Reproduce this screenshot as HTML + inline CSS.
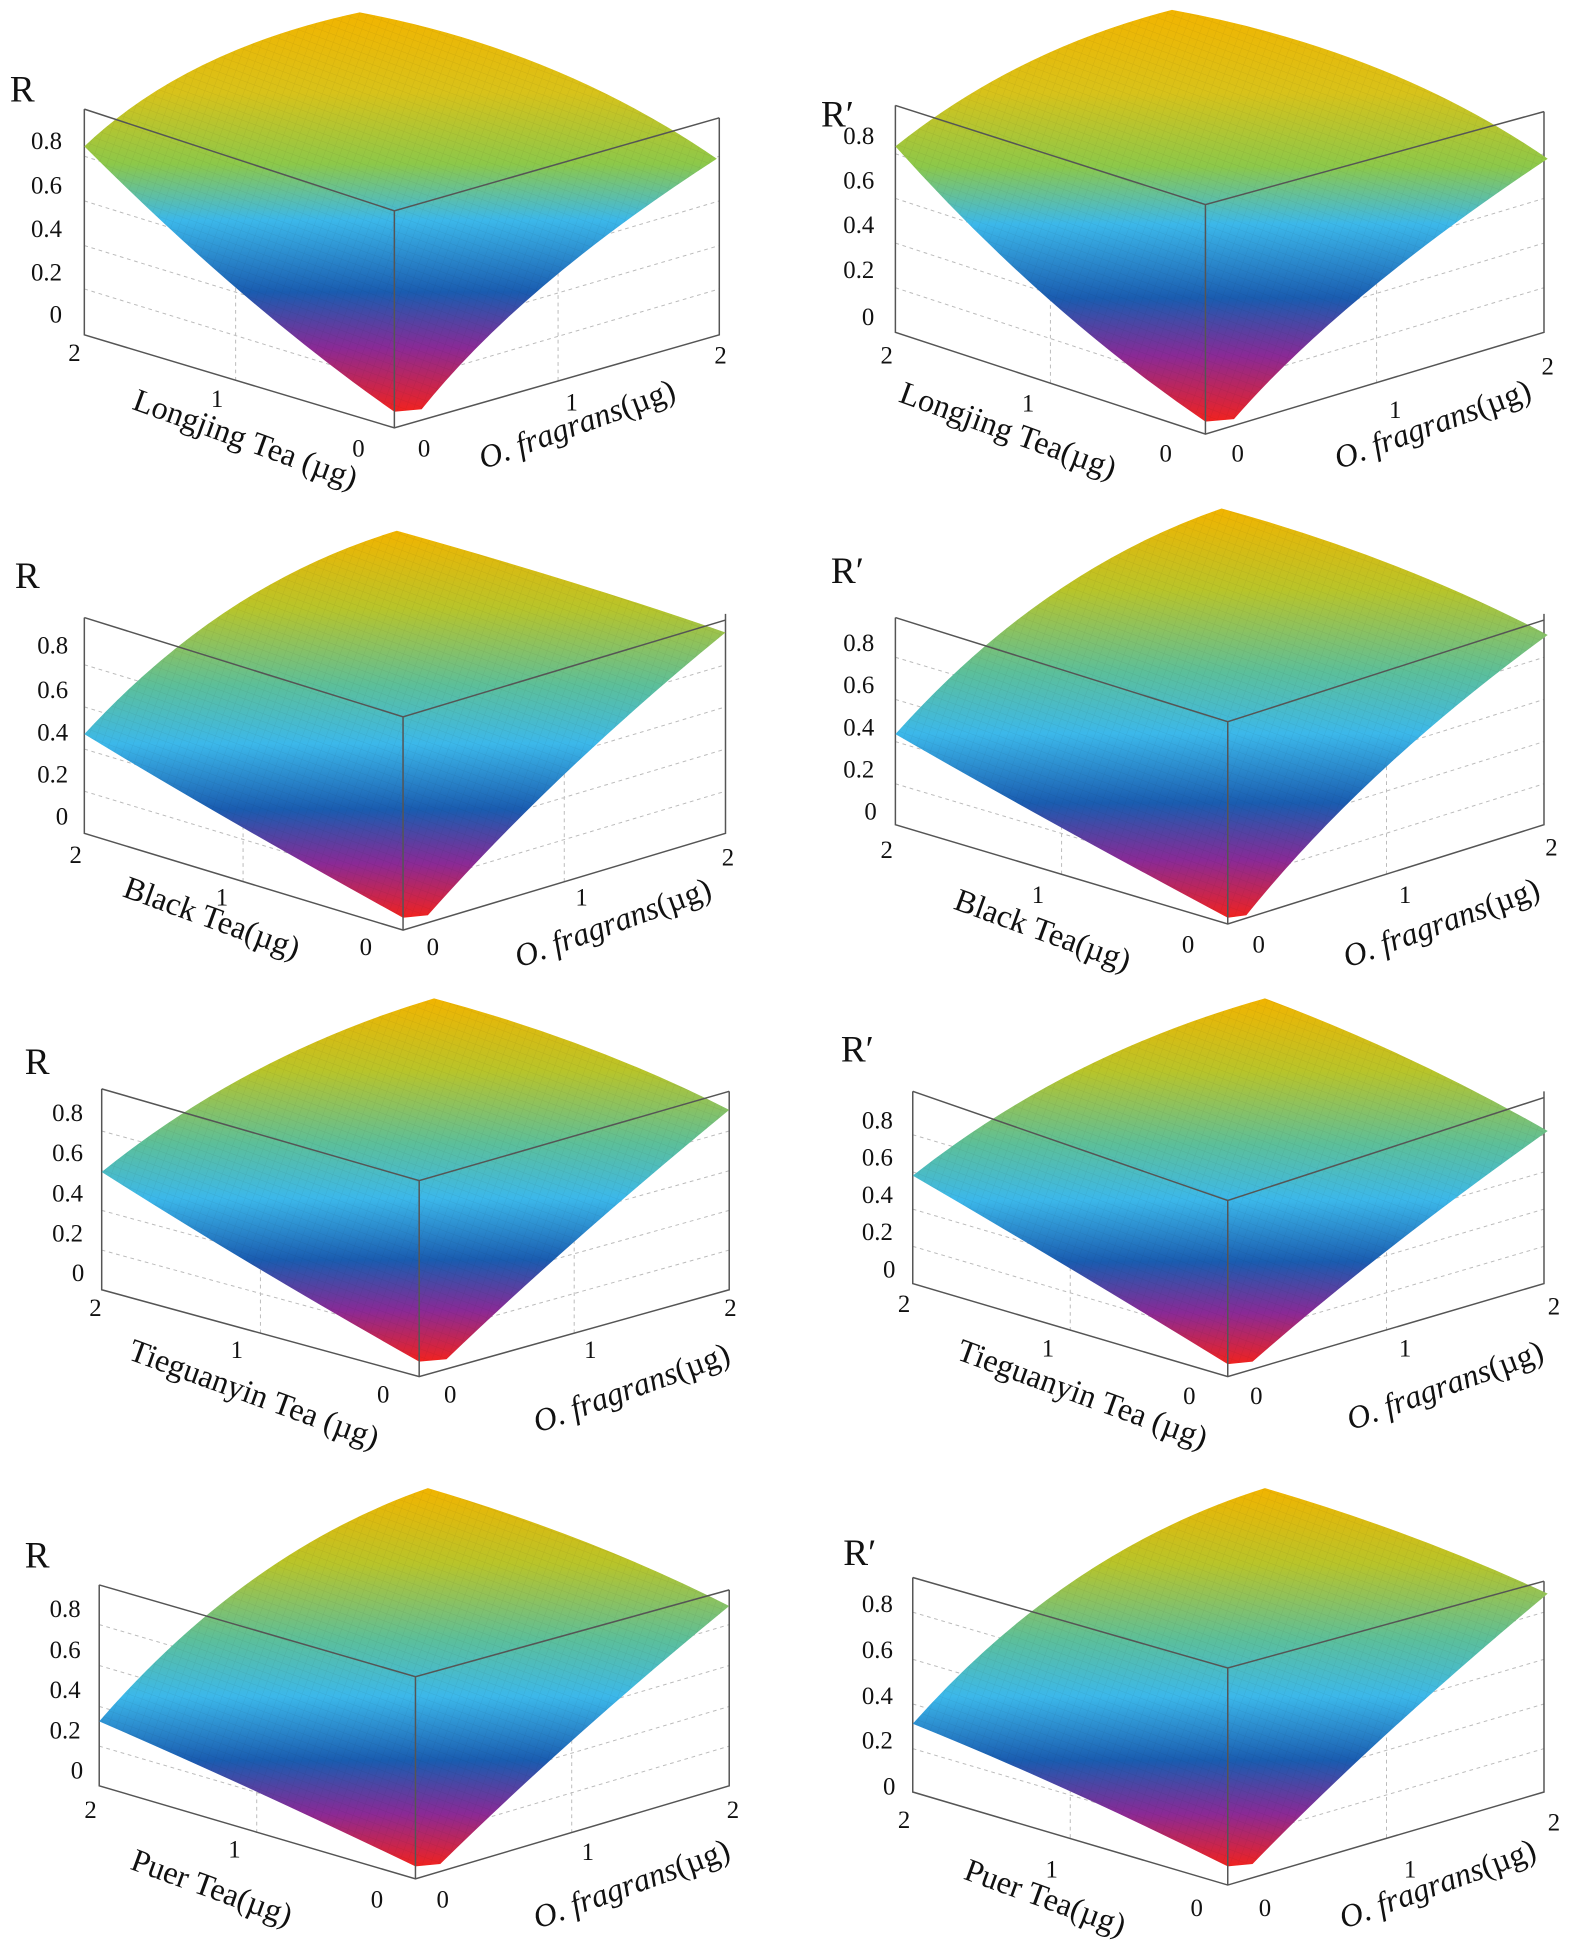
<!DOCTYPE html>
<html><head><meta charset="utf-8"><style>
html,body{margin:0;padding:0;background:#fff}
svg{display:block}
text{font-family:"Liberation Serif","DejaVu Serif",serif;fill:#111}
.t{font-family:"Liberation Sans",sans-serif;font-size:20px}
.ttl{font-size:26px}
.bx{stroke:#555;stroke-width:1.2;fill:none}
.gd{stroke:#bbb;stroke-width:0.8;stroke-dasharray:3 3;fill:none}
</style></head><body>
<svg width="1575" height="1952" viewBox="0 0 1270 1574" xmlns="http://www.w3.org/2000/svg">
<defs>
<linearGradient id="g" x1="0" y1="0" x2="0" y2="1">
<stop offset="0" stop-color="#f2b400"/><stop offset="0.2" stop-color="#d8c21a"/>
<stop offset="0.38" stop-color="#8cc84a"/><stop offset="0.52" stop-color="#3cb8ea"/>
<stop offset="0.7" stop-color="#1a5cb0"/><stop offset="0.84" stop-color="#8a2a96"/>
<stop offset="1" stop-color="#f2221e"/></linearGradient>
<linearGradient id="g2" x1="0" y1="0" x2="0" y2="1">
<stop offset="0" stop-color="#f2b400"/><stop offset="0.2" stop-color="#b8c42a"/>
<stop offset="0.4" stop-color="#5cbf9a"/><stop offset="0.55" stop-color="#3cb8ea"/>
<stop offset="0.72" stop-color="#1a5cb0"/><stop offset="0.86" stop-color="#8a2a96"/>
<stop offset="1" stop-color="#f2221e"/></linearGradient>
<pattern id="mesh" width="6" height="6" patternUnits="userSpaceOnUse" patternTransform="rotate(20)">
<path d="M0 0 H6 M0 0 V6" stroke="#000" stroke-opacity="0.07" stroke-width="0.7"/></pattern>
</defs>

<!-- Panel 1 -->
<g>
<path class="gd" d="M68 233 L318 310 L580 233 M68 198 L318 275 L580 198 M68 162 L318 240 L580 162 M68 126 L318 205 L580 126 M190 307 V130 M450 307 V130"/>
<path class="bx" d="M68 88 V270 L318 345 L580 270 V95"/>
<path d="M68 118 Q150 40 290 10 Q450 40 578 128 Q420 230 340 330 L318 332 Q200 250 68 118Z" fill="url(#g)"/>
<path d="M68 118 Q150 40 290 10 Q450 40 578 128 Q420 230 340 330 L318 332 Q200 250 68 118Z" fill="url(#mesh)"/>
<path class="bx" d="M68 88 L318 170 L580 95 M318 170 V345"/>
<text x="8" y="82" style="font-size:30px">R</text>
<g class="t"><text x="25" y="120">0.8</text><text x="25" y="156">0.6</text><text x="25" y="191">0.4</text><text x="25" y="226">0.2</text><text x="40" y="260">0</text>
<text x="55" y="291">2</text><text x="170" y="328">1</text><text x="284" y="368">0</text><text x="337" y="368">0</text><text x="456" y="331">1</text><text x="576" y="293">2</text></g>
<text class="ttl" transform="translate(195,362) rotate(20)" text-anchor="middle">Longjing Tea (µg)</text>
<text class="ttl" transform="translate(468,350) rotate(-20)" text-anchor="middle"><tspan font-style="italic">O. fragrans</tspan>(µg)</text>
</g>

<!-- Panel 2 -->
<g>
<path class="gd" d="M722 232 L972 314 L1245 232 M722 196 L972 278 L1245 196 M722 160 L972 242 L1245 160 M722 124 L972 206 L1245 124 M847 309 V130 M1110 309 V130"/>
<path class="bx" d="M722 85 V268 L972 350 L1245 268 V90"/>
<path d="M722 118 Q820 40 945 8 Q1120 40 1248 128 Q1080 240 995 338 L972 340 Q840 250 722 118Z" fill="url(#g)"/>
<path d="M722 118 Q820 40 945 8 Q1120 40 1248 128 Q1080 240 995 338 L972 340 Q840 250 722 118Z" fill="url(#mesh)"/>
<path class="bx" d="M722 85 L972 165 L1245 90 M972 165 V350"/>
<text x="662" y="102" style="font-size:30px">R′</text>
<g class="t"><text x="680" y="116">0.8</text><text x="680" y="152">0.6</text><text x="680" y="188">0.4</text><text x="680" y="224">0.2</text><text x="695" y="262">0</text>
<text x="710" y="293">2</text><text x="824" y="332">1</text><text x="935" y="372">0</text><text x="993" y="372">0</text><text x="1120" y="337">1</text><text x="1243" y="302">2</text></g>
<text class="ttl" transform="translate(810,355) rotate(20)" text-anchor="middle">Longjing Tea(µg)</text>
<text class="ttl" transform="translate(1158,350) rotate(-20)" text-anchor="middle"><tspan font-style="italic">O. fragrans</tspan>(µg)</text>
</g>

<!-- Panel 3 -->
<g>
<path class="gd" d="M68 638 L325 716 L585 638 M68 604 L325 682 L585 604 M68 570 L325 648 L585 570 M68 536 L325 614 L585 536 M196 711 V540 M455 711 V540"/>
<path class="bx" d="M68 498 V672 L325 750 L585 672 V495"/>
<path d="M68 592 Q180 470 320 428 Q470 470 585 510 Q450 620 345 738 L325 740 Q180 660 68 592Z" fill="url(#g2)"/>
<path d="M68 592 Q180 470 320 428 Q470 470 585 510 Q450 620 345 738 L325 740 Q180 660 68 592Z" fill="url(#mesh)"/>
<path class="bx" d="M68 498 L325 578 L585 500 M325 578 V750"/>
<text x="12" y="474" style="font-size:30px">R</text>
<g class="t"><text x="30" y="527">0.8</text><text x="30" y="563">0.6</text><text x="30" y="597">0.4</text><text x="30" y="631">0.2</text><text x="45" y="665">0</text>
<text x="56" y="696">2</text><text x="174" y="730">1</text><text x="290" y="770">0</text><text x="344" y="770">0</text><text x="464" y="730">1</text><text x="582" y="698">2</text></g>
<text class="ttl" transform="translate(168,748) rotate(20)" text-anchor="middle">Black Tea(µg)</text>
<text class="ttl" transform="translate(497,752) rotate(-20)" text-anchor="middle"><tspan font-style="italic">O. fragrans</tspan>(µg)</text>
</g>

<!-- Panel 4 -->
<g>
<path class="gd" d="M722 632 L990 712 L1245 632 M722 598 L990 678 L1245 598 M722 564 L990 644 L1245 564 M722 530 L990 610 L1245 530 M856 705 V540 M1118 705 V540"/>
<path class="bx" d="M722 498 V665 L990 745 L1245 665 V495"/>
<path d="M722 592 Q840 460 985 410 Q1130 450 1248 512 Q1100 620 1005 738 L990 740 Q840 660 722 592Z" fill="url(#g2)"/>
<path d="M722 592 Q840 460 985 410 Q1130 450 1248 512 Q1100 620 1005 738 L990 740 Q840 660 722 592Z" fill="url(#mesh)"/>
<path class="bx" d="M722 498 L990 582 L1245 500 M990 582 V745"/>
<text x="670" y="470" style="font-size:30px">R′</text>
<g class="t"><text x="680" y="525">0.8</text><text x="680" y="559">0.6</text><text x="680" y="593">0.4</text><text x="680" y="627">0.2</text><text x="697" y="661">0</text>
<text x="710" y="692">2</text><text x="832" y="728">1</text><text x="953" y="768">0</text><text x="1010" y="768">0</text><text x="1128" y="728">1</text><text x="1246" y="690">2</text></g>
<text class="ttl" transform="translate(838,758) rotate(20)" text-anchor="middle">Black Tea(µg)</text>
<text class="ttl" transform="translate(1165,752) rotate(-20)" text-anchor="middle"><tspan font-style="italic">O. fragrans</tspan>(µg)</text>
</g>

<!-- Panel 5 -->
<g>
<path class="gd" d="M82 1008 L338 1078 L588 1008 M82 976 L338 1046 L588 976 M82 944 L338 1014 L588 944 M82 912 L338 982 L588 912 M210 1075 V920 M463 1075 V920"/>
<path class="bx" d="M82 878 V1040 L338 1110 L588 1040 V880"/>
<path d="M82 945 Q200 850 350 805 Q480 840 588 895 Q460 1000 360 1096 L338 1098 Q200 1020 82 945Z" fill="url(#g2)"/>
<path d="M82 945 Q200 850 350 805 Q480 840 588 895 Q460 1000 360 1096 L338 1098 Q200 1020 82 945Z" fill="url(#mesh)"/>
<path class="bx" d="M82 878 L338 952 L588 880 M338 952 V1110"/>
<text x="20" y="866" style="font-size:30px">R</text>
<g class="t"><text x="42" y="904">0.8</text><text x="42" y="936">0.6</text><text x="42" y="969">0.4</text><text x="42" y="1001">0.2</text><text x="58" y="1033">0</text>
<text x="72" y="1061">2</text><text x="186" y="1095">1</text><text x="304" y="1131">0</text><text x="358" y="1131">0</text><text x="471" y="1095">1</text><text x="584" y="1061">2</text></g>
<text class="ttl" transform="translate(202,1132) rotate(20)" text-anchor="middle">Tieguanyin Tea (µg)</text>
<text class="ttl" transform="translate(512,1127) rotate(-20)" text-anchor="middle"><tspan font-style="italic">O. fragrans</tspan>(µg)</text>
</g>

<!-- Panel 6 -->
<g>
<path class="gd" d="M736 1005 L990 1080 L1245 1005 M736 975 L990 1050 L1245 975 M736 945 L990 1020 L1245 945 M736 915 L990 990 L1245 915 M863 1073 V920 M1118 1073 V920"/>
<path class="bx" d="M736 880 V1035 L990 1110 L1245 1035 V880"/>
<path d="M736 948 Q860 850 1020 805 Q1140 850 1248 912 Q1110 1010 1010 1098 L990 1100 Q860 1020 736 948Z" fill="url(#g2)"/>
<path d="M736 948 Q860 850 1020 805 Q1140 850 1248 912 Q1110 1010 1010 1098 L990 1100 Q860 1020 736 948Z" fill="url(#mesh)"/>
<path class="bx" d="M736 880 L990 968 L1245 885 M990 968 V1110"/>
<text x="678" y="856" style="font-size:30px">R′</text>
<g class="t"><text x="695" y="910">0.8</text><text x="695" y="940">0.6</text><text x="695" y="970">0.4</text><text x="695" y="1000">0.2</text><text x="712" y="1030">0</text>
<text x="724" y="1058">2</text><text x="840" y="1094">1</text><text x="954" y="1132">0</text><text x="1008" y="1132">0</text><text x="1128" y="1094">1</text><text x="1248" y="1060">2</text></g>
<text class="ttl" transform="translate(870,1132) rotate(20)" text-anchor="middle">Tieguanyin Tea (µg)</text>
<text class="ttl" transform="translate(1168,1125) rotate(-20)" text-anchor="middle"><tspan font-style="italic">O. fragrans</tspan>(µg)</text>
</g>

<!-- Panel 7 -->
<g>
<path class="gd" d="M80 1408 L335 1483 L588 1408 M80 1376 L335 1451 L588 1376 M80 1343 L335 1418 L588 1343 M80 1310 L335 1385 L588 1310 M207 1478 V1320 M461 1478 V1320"/>
<path class="bx" d="M80 1278 V1440 L335 1515 L588 1440 V1282"/>
<path d="M80 1388 Q200 1250 345 1200 Q480 1240 588 1295 Q460 1400 355 1503 L335 1505 Q200 1440 80 1388Z" fill="url(#g2)"/>
<path d="M80 1388 Q200 1250 345 1200 Q480 1240 588 1295 Q460 1400 355 1503 L335 1505 Q200 1440 80 1388Z" fill="url(#mesh)"/>
<path class="bx" d="M80 1278 L335 1352 L588 1282 M335 1352 V1515"/>
<text x="20" y="1264" style="font-size:30px">R</text>
<g class="t"><text x="40" y="1304">0.8</text><text x="40" y="1337">0.6</text><text x="40" y="1369">0.4</text><text x="40" y="1402">0.2</text><text x="57" y="1434">0</text>
<text x="68" y="1466">2</text><text x="184" y="1498">1</text><text x="299" y="1538">0</text><text x="352" y="1538">0</text><text x="469" y="1500">1</text><text x="586" y="1466">2</text></g>
<text class="ttl" transform="translate(168,1530) rotate(20)" text-anchor="middle">Puer Tea(µg)</text>
<text class="ttl" transform="translate(512,1527) rotate(-20)" text-anchor="middle"><tspan font-style="italic">O. fragrans</tspan>(µg)</text>
</g>

<!-- Panel 8 -->
<g>
<path class="gd" d="M736 1410 L990 1485 L1245 1410 M736 1374 L990 1449 L1245 1374 M736 1338 L990 1413 L1245 1338 M736 1300 L990 1375 L1245 1300 M863 1482 V1310 M1118 1482 V1310"/>
<path class="bx" d="M736 1272 V1445 L990 1520 L1245 1445 V1275"/>
<path d="M736 1390 Q860 1250 1020 1200 Q1140 1235 1248 1285 Q1110 1400 1010 1503 L990 1505 Q860 1440 736 1390Z" fill="url(#g2)"/>
<path d="M736 1390 Q860 1250 1020 1200 Q1140 1235 1248 1285 Q1110 1400 1010 1503 L990 1505 Q860 1440 736 1390Z" fill="url(#mesh)"/>
<path class="bx" d="M736 1272 L990 1345 L1245 1275 M990 1345 V1520"/>
<text x="680" y="1262" style="font-size:30px">R′</text>
<g class="t"><text x="695" y="1300">0.8</text><text x="695" y="1337">0.6</text><text x="695" y="1374">0.4</text><text x="695" y="1410">0.2</text><text x="712" y="1447">0</text>
<text x="724" y="1474">2</text><text x="843" y="1514">1</text><text x="960" y="1545">0</text><text x="1015" y="1545">0</text><text x="1132" y="1514">1</text><text x="1248" y="1476">2</text></g>
<text class="ttl" transform="translate(840,1538) rotate(20)" text-anchor="middle">Puer Tea(µg)</text>
<text class="ttl" transform="translate(1162,1527) rotate(-20)" text-anchor="middle"><tspan font-style="italic">O. fragrans</tspan>(µg)</text>
</g>
</svg>
</body></html>
